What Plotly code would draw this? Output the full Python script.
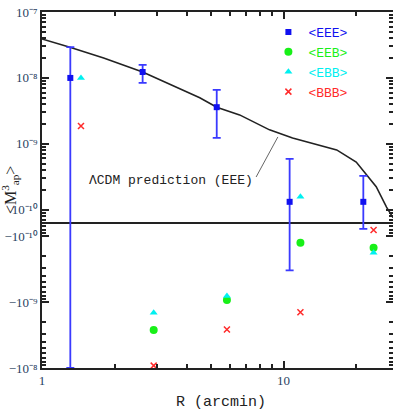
import math
import plotly.graph_objects as go

# ---------------- data ----------------
r_eee = [1.31, 2.61, 5.29, 10.6, 21.4]
eee = [1.0e-8, 1.23e-8, 3.6e-9, 1.32e-10, 1.32e-10]
eee_hi = [2.93e-8, 1.58e-8, 6.6e-9, 5.9e-10, 3.27e-10]
eee_lo = [-1.0e-8, 8.4e-9, 1.23e-9, -3.3e-10, -0.45e-10]

r_other = [1.45, 2.90, 5.83, 11.75, 23.6]
eeb = [None, -2.65e-9, -9.3e-10, -1.26e-10, -1.5e-10]
ebb = [1.0e-8, -1.45e-9, -8.1e-10, 1.58e-10, -1.79e-10]
bbb = [1.87e-9, -9.2e-9, -2.6e-9, -1.43e-9, -0.54e-10]

model_r = [1.0, 1.305, 1.8, 2.61, 4.5, 5.29, 6.58, 8.75, 10.9, 16.6, 20.0, 24.2, 26.7, 28.4]
model = [3.9e-8, 2.93e-8, 2.0e-8, 1.23e-8, 5.0e-9, 3.6e-9, 2.75e-9, 1.63e-9, 1.23e-9,
         8.1e-10, 5.3e-10, 2.24e-10, 1.1e-10, 0.4e-10]

y_major = [1e-7, 1e-8, 1e-9, 1e-10, -1e-10, -1e-9, -1e-8]
y_major_text = ["10⁻⁷", "10⁻⁸", "10⁻⁹", "10⁻¹⁰", "−10⁻¹⁰", "−10⁻⁹", "−10⁻⁸"]
x_major = [1, 10]
x_major_text = ["1", "10"]
x_minor = [2, 3, 4, 5, 6, 7, 8, 9, 20]

# --------------- symmetric-log transform ---------------
LIN = 1e-10
HALF = 0.2


def symt(v):
    if v is None:
        return None
    if abs(v) >= LIN:
        return math.copysign(math.log10(abs(v)) + 10 + HALF, v)
    return v / LIN * HALF


y_minor_vals = []
for e in [-10, -9, -8]:
    for m in range(2, 10):
        y_minor_vals.append(m * 10 ** e)
        if e < -8:
            y_minor_vals.append(-m * 10 ** e)
for f in [0.25, 0.5, 0.75]:
    y_minor_vals += [f * LIN, -f * LIN]

BLUE = "#1010f0"
ERR = "#3a3aff"
GREEN = "#18f018"
CYAN = "#00f0f0"
RED = "#ff2a2a"
AX = "#222222"
MONO = "Liberation Mono"
SERIF = "Liberation Serif"

fig = go.Figure()

fig.add_trace(go.Scatter(x=model_r, y=[symt(v) for v in model], mode="lines",
                         line=dict(color="#222222", width=1.6), showlegend=False))

t_eee = [symt(v) for v in eee]
fig.add_trace(go.Scatter(
    x=r_eee, y=t_eee, mode="markers",
    marker=dict(symbol="square", size=6, color=BLUE),
    error_y=dict(type="data", symmetric=False,
                 array=[symt(h) - t for h, t in zip(eee_hi, t_eee)],
                 arrayminus=[t - symt(l) for l, t in zip(eee_lo, t_eee)],
                 color=ERR, thickness=1.8, width=4),
    name=f"<span style='color:{BLUE}'>&lt;EEE&gt;</span>"))
fig.add_trace(go.Scatter(
    x=r_other, y=[symt(v) for v in eeb], mode="markers",
    marker=dict(symbol="circle", size=8, color=GREEN),
    name=f"<span style='color:{GREEN}'>&lt;EEB&gt;</span>"))
fig.add_trace(go.Scatter(
    x=r_other, y=[symt(v) for v in ebb], mode="markers",
    marker=dict(symbol="triangle-up", size=7, color=CYAN),
    name=f"<span style='color:{CYAN}'>&lt;EBB&gt;</span>"))
fig.add_trace(go.Scatter(
    x=r_other, y=[symt(v) for v in bbb], mode="markers",
    marker=dict(symbol="x-thin", size=6, color=RED, line=dict(color=RED, width=1.5)),
    name=f"<span style='color:{RED}'>&lt;BBB&gt;</span>"))

# invisible helper traces so the tick-only overlay axes are drawn
for xa, ya in [("x2", "y"), ("x", "y2")]:
    fig.add_trace(go.Scatter(x=[1, 10], y=[-1, -1], xaxis=xa, yaxis=ya, mode="lines",
                             line=dict(width=0), opacity=0, showlegend=False))

y_lo = symt(-1e-8)
y_hi = symt(1e-7)
xr = [0, math.log10(28.4)]

fig.update_layout(
    width=393, height=412,
    margin=dict(l=42, r=0, t=12, b=44),
    plot_bgcolor="white",
    xaxis=dict(type="log", range=xr, tickvals=x_major, ticktext=x_major_text,
               ticks="inside", ticklen=7, tickcolor=AX, tickwidth=1.5,
               showline=True, linecolor=AX, linewidth=1.5, mirror="ticks",
               showgrid=False, zeroline=False, automargin=False,
               tickfont=dict(family=SERIF, size=13)),
    xaxis2=dict(type="log", range=xr, overlaying="x", anchor="y", side="bottom",
                tickvals=x_minor, ticks="inside", ticklen=4, tickcolor=AX, tickwidth=1.5,
                showline=False, mirror="ticks", showticklabels=False, showgrid=False,
                zeroline=False, automargin=False),
    yaxis=dict(range=[y_lo, y_hi], tickvals=[symt(v) for v in y_major],
               ticktext=y_major_text, ticks="inside", ticklen=7, tickcolor=AX,
               tickwidth=1.5, showline=True, linecolor=AX, linewidth=1.5, mirror="ticks",
               showgrid=False, automargin=False,
               zeroline=True, zerolinecolor=AX, zerolinewidth=1.8,
               tickfont=dict(family=SERIF, size=13)),
    yaxis2=dict(range=[y_lo, y_hi], overlaying="y", anchor="x", side="left",
                tickvals=[symt(v) for v in y_minor_vals], ticks="inside", ticklen=4,
                tickcolor=AX, tickwidth=1.5, showline=False, mirror="ticks",
                showticklabels=False, showgrid=False, zeroline=False, automargin=False),
    legend=dict(x=0.645, y=0.986, xanchor="left", yanchor="top",
                bgcolor="rgba(0,0,0,0)", font=dict(family=MONO, size=13)),
    showlegend=True,
)

fig.add_annotation(xref="paper", yref="paper", x=-0.091, y=0.5, xanchor="center",
                   yanchor="middle", textangle=-90, showarrow=False,
                   text="&lt;M<sup>3</sup><sub>ap</sub>&gt;",
                   font=dict(family=SERIF, size=16, color="#222"))
fig.add_annotation(xref="paper", yref="paper", x=0.51, y=-0.098, xanchor="center",
                   yanchor="middle", showarrow=False, text="R (arcmin)",
                   font=dict(family=MONO, size=15, color="#222"))
fig.add_annotation(xref="paper", yref="paper", x=0.607, y=0.528, xanchor="right",
                   yanchor="middle", text="ΛCDM prediction (EEE)", showarrow=False,
                   font=dict(family=MONO, size=13, color="#222"))
fig.add_shape(type="line", xref="paper", yref="paper", x0=0.610, y0=0.5365,
              x1=0.672, y1=0.649, line=dict(color="#666666", width=1))

fig.write_html("out.html", post_script="document.body.style.margin='0';",
               config={"displayModeBar": False})
